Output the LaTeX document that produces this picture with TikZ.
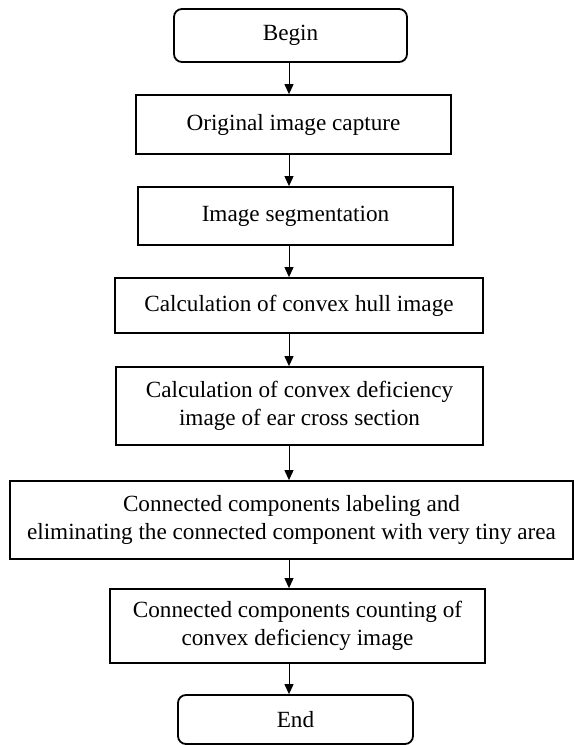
\documentclass[tikz,border=0pt]{standalone}
\usepackage{fontspec}
\setmainfont{Liberation Serif}
\usepackage{tikz}
\usetikzlibrary{positioning,arrows.meta}
\definecolor{ink}{HTML}{000000}

\begin{document}
\begin{tikzpicture}[x=1pt, y=-1pt,
    every node/.style={font=\fontsize{23.2}{28}\selectfont, text=ink},
    term/.style={draw=ink, rounded corners=8pt, align=center, line width=1.8pt,
                 inner sep=0pt},
    proc/.style={draw=ink, align=center, line width=1.8pt, inner sep=0pt},
    flow/.style={-{Triangle[length=10pt, width=9pt]}, draw=ink, line width=1pt},
  ]
  \useasboundingbox (0,0) rectangle (575,745);

  % the spine that all arrows follow
  \coordinate (spine) at (289,0);

  % start and end
  \node[term, minimum width=233pt, minimum height=53pt] (begin) at (290.5,35.5) {Begin};
  \node[term, minimum width=235pt, minimum height=49pt] (end)   at (295.5,719.5) {End};

  % the processing steps
  \node[proc, minimum width=315pt, minimum height=59pt] (capture) at (293.5,124.5)
        {Original image capture};
  \node[proc, minimum width=315pt, minimum height=58pt] (segment) at (295.5,216)
        {Image segmentation};
  \node[proc, minimum width=368pt, minimum height=55pt] (hull)    at (299,305.5)
        {Calculation of convex hull image};
  \node[proc, minimum width=367pt, minimum height=78pt] (deficit) at (299.5,406)
        {Calculation of convex deficiency\\ image of ear cross section};
  \node[proc, minimum width=563pt, minimum height=78pt] (labeling) at (291.5,520)
        {Connected components labeling and\\ eliminating the connected component with very tiny area};
  \node[proc, minimum width=375pt, minimum height=74pt] (counting) at (297.5,626)
        {Connected components counting of\\ convex deficiency image};

  % arrows down the spine
  \draw[flow] (begin.south -| spine)    -- (capture.north -| spine);
  \draw[flow] (capture.south -| spine)  -- (segment.north -| spine);
  \draw[flow] (segment.south -| spine)  -- (hull.north -| spine);
  \draw[flow] (hull.south -| spine)     -- (deficit.north -| spine);
  \draw[flow] (deficit.south -| spine)  -- (labeling.north -| spine);
  \draw[flow] (labeling.south -| spine) -- (counting.north -| spine);
  \draw[flow] (counting.south -| spine) -- (end.north -| spine);
\end{tikzpicture}
\end{document}
